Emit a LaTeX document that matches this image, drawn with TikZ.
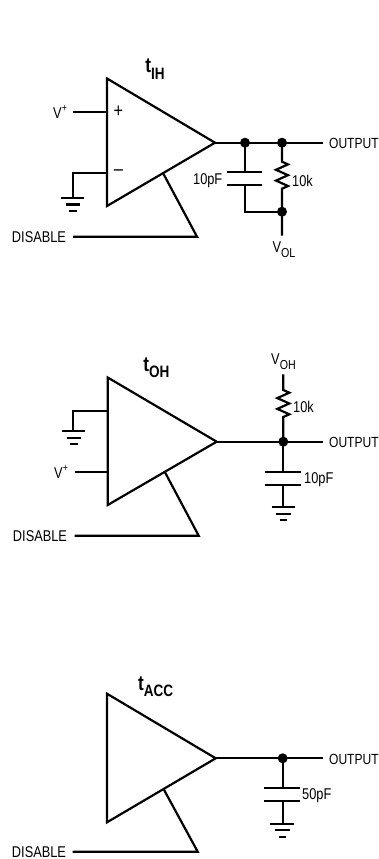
\documentclass[tikz,border=0pt]{standalone}
\usepackage{fontspec}
\setmainfont[FakeStretch=.82]{Liberation Sans}
\usepackage{tikz}
\usetikzlibrary{calc}
\newcommand{\lbl}{\fontsize{15.6}{15.6}\selectfont}
\newcommand{\dropped}[2]{\raisebox{-#1}{\fontsize{13}{13}\selectfont #2}}
\newcommand{\raised}[1]{\raisebox{.42em}{\fontsize{10.5}{10.5}\selectfont #1}}
\newcommand{\ttl}[2]{{\bfseries\fontsize{21}{21}\selectfont #1\raisebox{-.3em}{\fontsize{16.5}{16.5}\selectfont #2}}}
\newcommand{\zigzag}{-- ++(6,2.7) -- ++(-12,5.4) -- ++(12,5.4) -- ++(-12,5.4) -- ++(12,5.4) -- ++(-6,2.7)}
\tikzset{
  wire/.style = {line width = 2.2pt, line cap = butt, line join = miter},
  txt/.style = {inner sep = 0pt, font = \lbl},
  outlbl/.style = {inner sep = 0pt, anchor = east, font = \fontsize{14.7}{14.7}\selectfont},
  sign/.style = {inner sep = 0pt, font = \fontsize{20}{20}\selectfont},
  dot/.style = {circle, fill = black, inner sep = 0pt, minimum size = 10pt}
}
\begin{document}
\begin{tikzpicture}[x = 1pt, y = -1pt]
\useasboundingbox (0,0) rectangle (379,859);
% tIH
\coordinate (tl1) at (107,78.5);
\coordinate (tip1) at (215,142.7);
\coordinate (bl1) at (107,206);
\coordinate (en1) at (163,173);
\coordinate (in1) at (73,112);
\coordinate (gw1) at (73,173.3);
\coordinate (gnd1) at (73,198);
\coordinate (dc1) at (197,236.7);
\coordinate (de1) at (73,236.7);
\coordinate (oe1) at (323,142.7);
\coordinate (ct1) at (245,172.3);
\coordinate (cb1) at (245,185);
\coordinate (vol) at (282,235.7);
\node[dot] (ja1) at (245,142.7) {};
\node[dot] (jb1) at (282,142.7) {};
\node[dot] (jc1) at (282,211.7) {};
\draw[wire] (tl1) -- (tip1) -- (bl1) -- cycle;
\draw[wire] (in1) -- (107,112);
\draw[wire] (107,173.3) -- (gw1) -- (gnd1);
\draw[wire] (61,198) -- (84,198);
\draw[wire] (66,204.5) -- (80,204.5);
\draw[wire] (69,211) -- (77,211);
\draw[wire] (en1) -- (dc1) -- (de1);
\draw[wire] (tip1) -- (oe1);
\draw[wire] (ja1.center) -- (ct1);
\draw[wire] (227,172.3) -- (262,172.3);
\draw[wire] (227,185) -- (262,185);
\draw[wire] (cb1) |- (jc1.center);
\draw[wire] (jb1.center) -- (282,161.7) \zigzag -- (jc1.center) -- (vol);
\node[sign] (plus1) at (118.5,112) {+};
\node[sign] (minus1) at (118.5,173) {--};
\node[txt] (vplus1) at (60,112) {V\raised{+}};
\node[txt] (dis1) at (39,236.7) {DISABLE};
\node[outlbl] (out1) at (378.9,143.5) {OUTPUT};
\node[txt, anchor = east] (cap1) at (222.5,181) {10pF};
\node[txt, anchor = west] (res1) at (292,181) {10k};
\node[txt] (vollbl) at (284,250) {V\dropped{.3em}{OL}};
\node[txt] (title1) at (155,69) {\ttl{t}{IH}};
% tOH
\coordinate (tl2) at (107.7,377.5);
\coordinate (tip2) at (216.7,441.7);
\coordinate (bl2) at (107.7,505);
\coordinate (en2) at (165,472.3);
\coordinate (in2) at (74.7,472.3);
\coordinate (gw2) at (73.3,410.7);
\coordinate (gnd2) at (73.3,431);
\coordinate (dc2) at (198.7,535.7);
\coordinate (de2) at (74.7,535.7);
\coordinate (oe2) at (323.3,441.7);
\coordinate (voh) at (283.3,374.3);
\coordinate (gnd3) at (283.3,507.3);
\node[dot] (ja2) at (283.3,441.7) {};
\draw[wire] (tl2) -- (tip2) -- (bl2) -- cycle;
\draw[wire] (107.7,410.7) -- (gw2) -- (gnd2);
\draw[wire] (62,431) -- (85,431);
\draw[wire] (66.5,437.7) -- (81,437.7);
\draw[wire] (70,444) -- (77.5,444);
\draw[wire] (in2) -- (107.7,472.3);
\draw[wire] (en2) -- (dc2) -- (de2);
\draw[wire] (tip2) -- (oe2);
\draw[wire] (voh) -- (283.3,390) \zigzag -- (ja2.center);
\draw[wire] (ja2.center) -- (283.3,472);
\draw[wire] (265.3,472) -- (300.7,472);
\draw[wire] (265.3,485) -- (300.7,485);
\draw[wire] (283.3,485) -- (gnd3);
\draw[wire] (271.7,507.3) -- (295,507.3);
\draw[wire] (276,514) -- (290.5,514);
\draw[wire] (279.5,520.3) -- (287,520.3);
\node[txt] (vplus2) at (61,472) {V\raised{+}};
\node[txt] (dis2) at (40,535.7) {DISABLE};
\node[outlbl] (out2) at (378.9,442.5) {OUTPUT};
\node[txt, anchor = west] (cap2) at (304,479.5) {10pF};
\node[txt, anchor = west] (res2) at (293,406.7) {10k};
\node[txt] (vohlbl) at (283.5,361.7) {V\dropped{.3em}{OH}};
\node[txt] (title2) at (156.5,368) {\ttl{t}{OH}};
% tACC
\coordinate (tl3) at (107,693.7);
\coordinate (tip3) at (215.7,758.3);
\coordinate (bl3) at (107,822.3);
\coordinate (en3) at (163.3,788.5);
\coordinate (dc3) at (197.7,851.7);
\coordinate (de3) at (72.7,851.7);
\coordinate (oe3) at (323,758.3);
\coordinate (gnd4) at (282.7,823.7);
\node[dot] (ja3) at (282.7,758.3) {};
\draw[wire] (tl3) -- (tip3) -- (bl3) -- cycle;
\draw[wire] (en3) -- (dc3) -- (de3);
\draw[wire] (tip3) -- (oe3);
\draw[wire] (ja3.center) -- (282.7,788);
\draw[wire] (264,788) -- (300,788);
\draw[wire] (264,801) -- (300,801);
\draw[wire] (282.7,801) -- (gnd4);
\draw[wire] (270,823.7) -- (294,823.7);
\draw[wire] (275,830.3) -- (289.5,830.3);
\draw[wire] (279,837) -- (286,837);
\node[txt] (dis3) at (39,852) {DISABLE};
\node[outlbl] (out3) at (378.9,759) {OUTPUT};
\node[txt, anchor = west] (cap3) at (302,796) {50pF};
\node[txt] (title3) at (155.7,687) {\ttl{t}{ACC}};
\end{tikzpicture}
\end{document}
